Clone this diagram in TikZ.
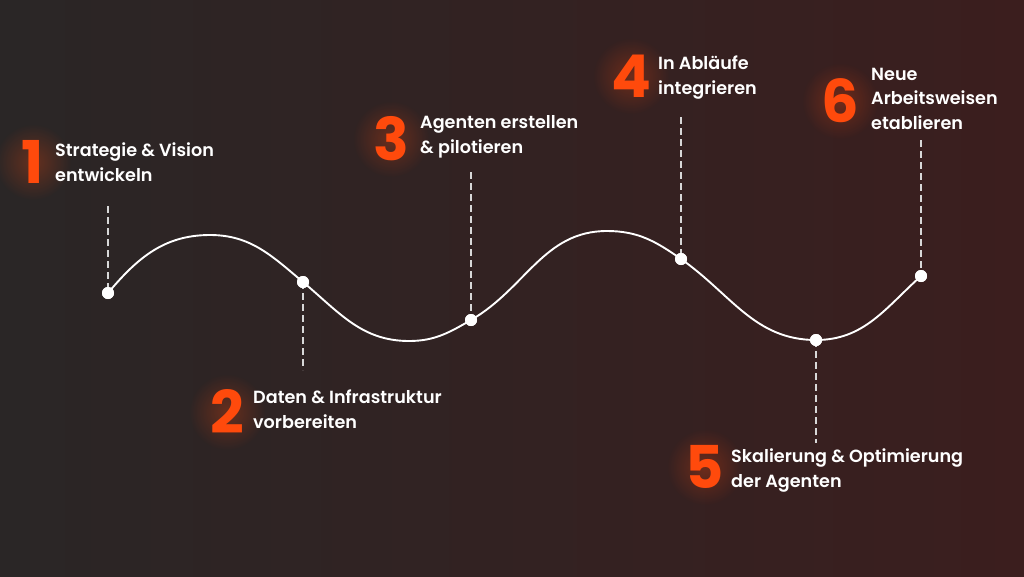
\documentclass[tikz,border=0pt]{standalone}
\usepackage{fontspec}
\setmainfont{Poppins}
\newfontfamily\lblfont{Poppins SemiBold}
\newfontfamily\numfont{Poppins Bold}
\usetikzlibrary{fadings}
\definecolor{bgL}{HTML}{2A2626}
\definecolor{bgR}{HTML}{3B1E1E}
\definecolor{accent}{HTML}{FF4A0C}
\definecolor{dashc}{HTML}{D8D8D8}
\tikzfading[name=glowfade, inner color=transparent!72, outer color=transparent!100]
\tikzset{
  dot/.style={circle, fill=white, draw=none, minimum size=12pt, inner sep=0pt},
  wave/.style={draw=white, line width=1.9pt},
  guide/.style={draw=dashc, line width=1.4pt, dash pattern=on 7pt off 4pt},
  lbl/.style={anchor=base west, inner sep=0pt, align=left, text=white,
    font=\lblfont\fontsize{17.6}{24.5}\selectfont},
  num/.style={anchor=base, inner sep=0pt, text=accent,
    font=\numfont\fontsize{59}{59}\selectfont},
  glow/.style={fill=accent, path fading=glowfade}
}
\begin{document}
\begin{tikzpicture}[x=1pt,y=-1pt]
\useasboundingbox (0,0) rectangle (1024,576);
\shade[left color=bgL, right color=bgR, shading angle=90] (0,0) rectangle (1024,576);

% extrema of the wave
\coordinate (P1) at (210,235);
\coordinate (T1) at (409,341);
\coordinate (P2) at (607,231);
% dots
\node[dot] (d1) at (108,293) {};
\node[dot] (d2) at (303,282) {};
\node[dot] (d3) at (471,320) {};
\node[dot] (d4) at (681,259) {};
\node[dot] (d5) at (816,340) {};
\node[dot] (d6) at (921,276) {};

% dashed guides end points
\coordinate (g1) at (108,206);
\coordinate (g2) at (303,370);
\coordinate (g3) at (471,172);
\coordinate (g4) at (681,117);
\coordinate (g5) at (816,443);
\coordinate (g6) at (921,140);

\draw[guide] (g1) -- (d1.center);
\draw[guide] (d2.center) -- (g2);
\draw[guide] (g3) -- (d3.center);
\draw[guide] (g4) -- (d4.center);
\draw[guide] (d5.center) -- (g5);
\draw[guide] (g6) -- (d6.center);

\draw[wave] (d1.center) to[out=50,in=180] (P1)
  to[out=0,in=140] (d2.center)
  to[out=-40,in=180] (T1)
  to[out=0,in=210] (d3.center)
  to[out=30,in=180] (P2)
  to[out=0,in=145] (d4.center)
  to[out=-35,in=180] (d5.center)
  to[out=0,in=222] (d6.center);

\node[dot] at (d1) {};
\node[dot] at (d2) {};
\node[dot] at (d3) {};
\node[dot] at (d4) {};
\node[dot] at (d5) {};
\node[dot] at (d6) {};

% glows
\fill[glow] (33,162) circle (38);
\fill[glow] (227,412) circle (38);
\fill[glow] (391,139) circle (38);
\fill[glow] (631,76) circle (38);
\fill[glow] (705,467) circle (38);
\fill[glow] (840,101) circle (38);

% numbers
\node[num] (n1) at (33,183) {1};
\node[num] (n2) at (227.5,433) {2};
\node[num] (n3) at (391,160) {3};
\node[num] (n4) at (631,97) {4};
\node[num] (n5) at (705,488) {5};
\node[num] (n6) at (840,122) {6};

% labels (anchored at the baseline of the last line)
\node[lbl] (l1) at (55,181) {Strategie \& Vision\\entwickeln};
\node[lbl] (l2) at (253,428) {Daten \& Infrastruktur\\vorbereiten};
\node[lbl] (l3) at (420,153) {Agenten erstellen\\\& pilotieren};
\node[lbl] (l4) at (658,94) {In Abläufe\\integrieren};
\node[lbl] (l5) at (731,487) {Skalierung \& Optimierung\\der Agenten};
\node[lbl] (l6) at (871,129) {Neue\\Arbeitsweisen\\etablieren};
\end{tikzpicture}
\end{document}
